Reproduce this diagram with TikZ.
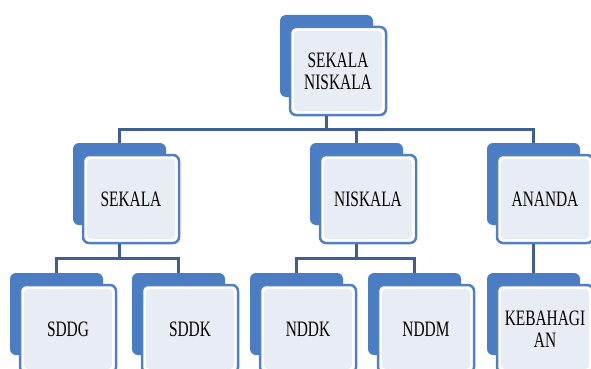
\documentclass[tikz,border=0pt]{standalone}
\usepackage{fontspec}
\setmainfont{Liberation Serif}
\newfontfamily\boxfont[FakeStretch=0.7]{Liberation Serif}
\usetikzlibrary{calc}
\definecolor{backblue}{HTML}{4A7DC3}
\definecolor{frontline}{HTML}{5280BE}
\definecolor{frontin}{HTML}{E8ECF4}
\definecolor{linkblue}{HTML}{3F5F90}
\tikzset{
    backbox/.style={rectangle, rounded corners=6pt, fill=backblue, minimum width=93pt, minimum height=82pt, inner sep=0pt},
    frontbox/.style={rectangle, rounded corners=6pt, draw=frontline, line width=2.5pt, fill=white,
        minimum width=96pt, minimum height=88pt, inner sep=0pt, align=center,
        font=\boxfont\fontsize{22}{22}\selectfont,
        path picture={\fill[frontin, rounded corners=4pt]
            ([shift={(4pt,-4pt)}]path picture bounding box.north west) rectangle
            ([shift={(-4pt,4pt)}]path picture bounding box.south east);}},
    link/.style={draw=linkblue, line width=3.5pt},
}

\begin{document}
\begin{tikzpicture}[x=1pt, y=-1pt]
    \useasboundingbox (0,0) rectangle (591,369);
    \clip (0,0) rectangle (591,369);

    \node[backbox] (ksn-b) at (326.5,56) {};
    \node[frontbox] (ksn) at ([shift={(11.5,15)}]ksn-b.center) {SEKALA\\NISKALA};

    \node[backbox] (sek-b) at (119.5,184) {};
    \node[frontbox] (sek) at ([shift={(11.5,15)}]sek-b.center) {SEKALA};
    \node[backbox] (nis-b) at (356.5,184) {};
    \node[frontbox] (nis) at ([shift={(11.5,15)}]nis-b.center) {NISKALA};
    \node[backbox] (ana-b) at (533.5,184) {};
    \node[frontbox] (ana) at ([shift={(11.5,15)}]ana-b.center) {ANANDA};

    \node[backbox] (sddg-b) at (56.5,314) {};
    \node[frontbox] (sddg) at ([shift={(11.5,15)}]sddg-b.center) {SDDG};
    \node[backbox] (sddk-b) at (178.5,314) {};
    \node[frontbox] (sddk) at ([shift={(11.5,15)}]sddk-b.center) {SDDK};
    \node[backbox] (nddk-b) at (296.5,314) {};
    \node[frontbox] (nddk) at ([shift={(11.5,15)}]nddk-b.center) {NDDK};
    \node[backbox] (nddm-b) at (414.5,314) {};
    \node[frontbox] (nddm) at ([shift={(11.5,15)}]nddm-b.center) {NDDM};
    \node[backbox] (keb-b) at (533.5,314) {};
    \node[frontbox] (keb) at ([shift={(11.5,15)}]keb-b.center) {KEBAHAGI\\AN};

    % top level
    \coordinate (top-bar) at ($(ksn.south)!.5!(sek-b.north)$);
    \draw[link] (ksn-b |- ksn.south) -- (ksn-b |- top-bar);
    \draw[link] (sek-b.north) |- (top-bar) -| (ana-b.north);
    \draw[link] (nis-b.north) -- (nis-b |- top-bar);

    % second level
    \coordinate (sek-bar) at ($(sek.south)!.5!(sddg-b.north)$);
    \draw[link] (sek-b |- sek.south) -- (sek-b |- sek-bar);
    \draw[link] (sddg-b.north) |- (sek-bar) -| (sddk-b.north);

    \coordinate (nis-bar) at ($(nis.south)!.5!(nddk-b.north)$);
    \draw[link] (nis-b |- nis.south) -- (nis-b |- nis-bar);
    \draw[link] (nddk-b.north) |- (nis-bar) -| (nddm-b.north);

    \draw[link] (ana-b |- ana.south) -- (keb-b.north);
\end{tikzpicture}
\end{document}
